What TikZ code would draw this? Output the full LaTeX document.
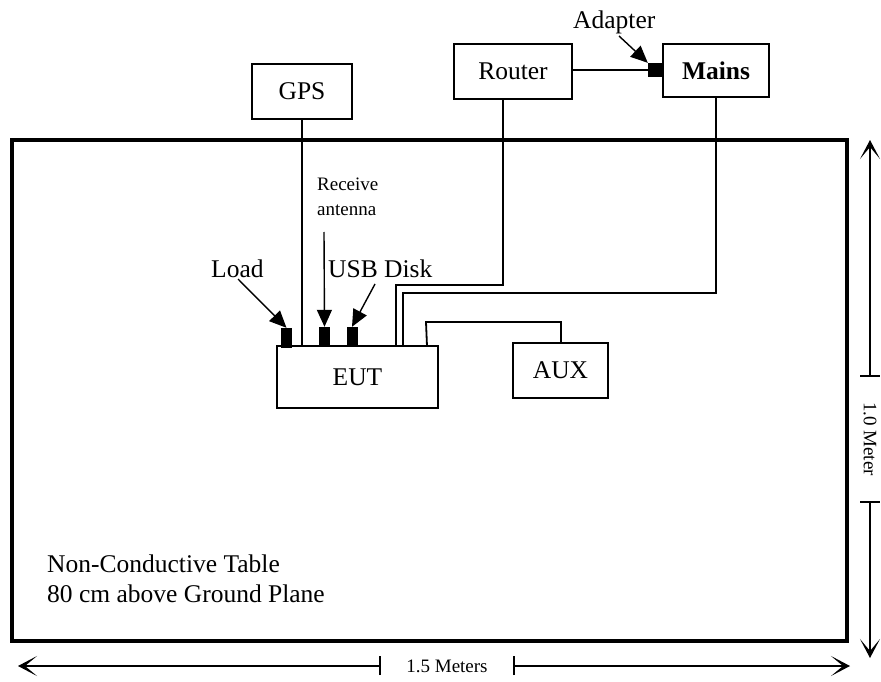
\documentclass[tikz,border=0pt]{standalone}
\usepackage{fontspec}
\setmainfont{Liberation Serif}
\usetikzlibrary{arrows.meta}
\begin{document}
\begin{tikzpicture}[x=1pt,y=-1pt,
  box/.style={draw, line width=1.8pt, inner sep=0pt, font=\fontsize{25.5}{30}\selectfont},
  plug/.style={fill=black, inner sep=0pt, minimum width=11pt, minimum height=20pt},
  wire/.style={line width=1.8pt},
  lbl/.style={font=\fontsize{25.5}{30}\selectfont, inner sep=0pt, anchor=base west},
  small/.style={font=\fontsize{19}{26}\selectfont, inner sep=0pt},
  ptr/.style={line width=1.4pt, -{Triangle[length=17pt,width=15pt]}},
  dim/.style={line width=1.4pt, -{Stealth[length=19pt,width=20pt,inset=12pt]}},
  tick/.style={line width=1.4pt},
]
\useasboundingbox (0,0) rectangle (881,682);

% table
\node[draw, line width=3.5pt, minimum width=835pt, minimum height=501pt, inner sep=0pt] (table) at (429.5,390.5) {};
\node[lbl] (t1) at (47,572) {Non-Conductive Table};
\node[lbl] (t2) at (47,602) {80 cm above Ground Plane};

% boxes
\node[box, minimum width=100pt, minimum height=55pt] (gps) at (302,91.5) {GPS};
\node[box, minimum width=118pt, minimum height=55pt] (router) at (513,71.5) {Router};
\node[box, minimum width=106pt, minimum height=53pt, font=\fontsize{25.5}{30}\selectfont\bfseries] (mains) at (716,70.5) {Mains};
\node[box, minimum width=161pt, minimum height=62pt] (eut) at (357.5,377) {EUT};
\node[box, minimum width=95pt, minimum height=55pt] (aux) at (560.5,370.5) {AUX};

% plugs
\node[plug] (load) at (286.5,338) {};
\node[plug] (ant) at (324.5,337) {};
\node[plug] (usb) at (352,337) {};
\node[plug, minimum width=14pt, minimum height=14pt] (adapter) at (655,70) {};

% wires
\draw[wire] (gps.south) -- (gps.south |- eut.north);
\coordinate (r1) at (396,346);
\coordinate (r2) at (396,285);
\coordinate (r3) at (503,285);
\draw[wire] (r1) -- (r2) -- (r3) -- (r3 |- router.south);
\coordinate (m1) at (403,346);
\coordinate (m2) at (403,293);
\coordinate (m3) at (716,293);
\draw[wire] (m1) -- (m2) -- (m3) -- (mains.south);
\coordinate (a1) at (427,346);
\coordinate (a2) at (426,322);
\coordinate (a3) at (561,322);
\draw[wire] (a1) -- (a2) -- (a3) -- (aux.north -| a3);
\draw[wire] (adapter.west -| router.east) -- (adapter.west);

% labels with pointers
\node[lbl] (adlbl) at (573,29) {Adapter};
\coordinate (adtail) at (619,36);
\draw[ptr] (adtail) -- (adapter.north west);

\node[lbl] (loadlbl) at (211,277) {Load};
\coordinate (loadtail) at (238,279);
\draw[ptr] (loadtail) -- (load.north);

\node[small, anchor=base west] (rx1) at (317,190) {Receive};
\node[small, anchor=base west] (rx2) at (317,215) {antenna};
\coordinate (anttail) at (324,232);
\draw[ptr] (anttail) -- (ant.north);

\node[lbl] (usblbl) at (328,277) {USB Disk};
\coordinate (usbtail) at (375,284);
\draw[ptr] (usbtail) -- (usb.north);

% horizontal dimension
\coordinate (hl) at (18,666);
\coordinate (hr) at (850,666);
\coordinate (ht1) at (380,666);
\coordinate (ht2) at (514,666);
\draw[dim] (ht1) -- (hl);
\draw[dim] (ht2) -- (hr);
\draw[tick] ([yshift=-9pt]ht1) -- ([yshift=10pt]ht1);
\draw[tick] ([yshift=-9pt]ht2) -- ([yshift=10pt]ht2);
\node[small] (hlbl) at (447,666) {1.5 Meters};

% vertical dimension
\coordinate (vt) at (870,140);
\coordinate (vb) at (870,658);
\coordinate (vt1) at (870,376);
\coordinate (vt2) at (870,502);
\draw[dim] (vt1) -- (vt);
\draw[dim] (vt2) -- (vb);
\draw[tick] ([xshift=-10pt]vt1) -- ([xshift=10pt]vt1);
\draw[tick] ([xshift=-10pt]vt2) -- ([xshift=10pt]vt2);
\node[small, rotate=-90] (vlbl) at (870,439) {1.0 Meter};
\end{tikzpicture}
\end{document}
